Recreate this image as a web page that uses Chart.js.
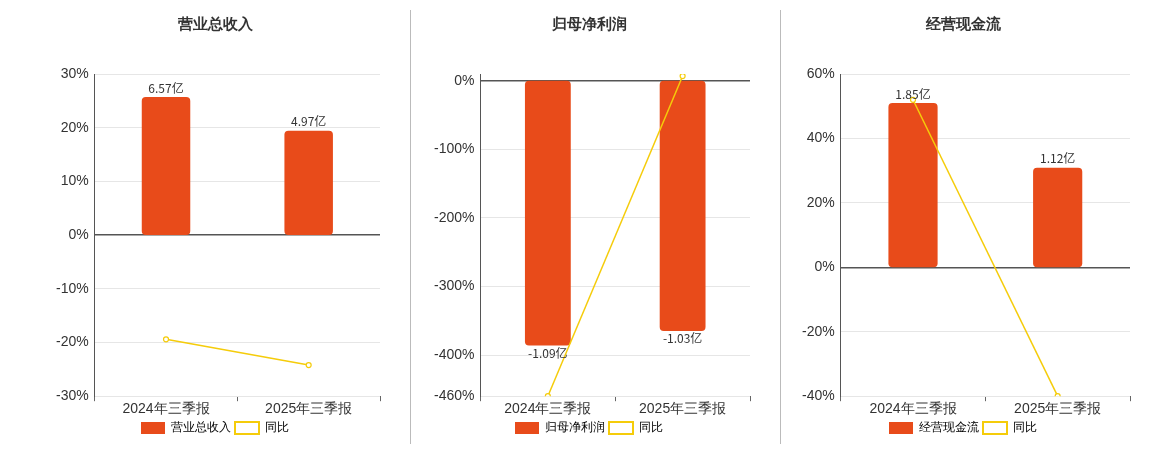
<!DOCTYPE html>
<html><head><meta charset="utf-8">
<script src="https://cdn.jsdelivr.net/npm/chart.js@4/dist/chart.umd.min.js"></script>
<style>
body{margin:0;background:#fff;font-family:"Noto Sans CJK SC","Noto Sans",sans-serif;}
.p{position:absolute;top:0;height:450px;}
.sep{position:absolute;top:10px;height:434px;width:1px;background:#bbb;}
</style></head><body>
<div class="p" style="left:0;width:400px"><canvas id="c1"></canvas></div>
<div class="sep" style="left:410px"></div>
<div class="p" style="left:400px;width:380px"><canvas id="c2"></canvas></div>
<div class="sep" style="left:780px"></div>
<div class="p" style="left:780px;width:380px"><canvas id="c3"></canvas></div>
<script>
var categories = ['2024年三季报', '2025年三季报'];

var revenue = [6.57, 4.97];
var revenueYoy = [-19.4, -24.2];
var profit = [-1.09, -1.03];
var profitYoy = [-460, 7];
var cash = [1.85, 1.12];
var cashYoy = [52, -40];

var barColor = '#E84B1A', lineColor = '#F5CC0A';

var barLabels = {
  id: 'barLabels',
  afterDatasetsDraw: function (chart) {
    var ctx = chart.ctx;
    var meta = chart.getDatasetMeta(0);
    ctx.save();
    ctx.font = '12px "Noto Sans CJK SC", sans-serif';
    ctx.fillStyle = '#333';
    ctx.textAlign = 'center';
    meta.data.forEach(function (bar, i) {
      var v = chart.data.datasets[0].data[i];
      if (v >= 0) { ctx.textBaseline = 'bottom'; ctx.fillText(v.toFixed(2) + '亿', bar.x, bar.y - 3); }
      else { ctx.textBaseline = 'top'; ctx.fillText(v.toFixed(2) + '亿', bar.x, bar.y + 2); }
    });
    ctx.restore();
  }
};

function makeChart(id, title, name, bars, yoy, yMin, yMax, ticks, k, pad) {
  new Chart(document.getElementById(id), {
    type: 'bar',
    data: {
      labels: categories,
      datasets: [{
        label: name, data: bars, yAxisID: 'y1', backgroundColor: barColor,
        borderRadius: 4, borderSkipped: false, barPercentage: 0.34, categoryPercentage: 1, order: 2
      }, {
        type: 'line', label: '同比', data: yoy, yAxisID: 'y', borderColor: lineColor,
        backgroundColor: '#fff', borderWidth: 1.5, pointRadius: 2.5, pointBorderWidth: 1.2, order: 1
      }]
    },
    options: {
      responsive: true, maintainAspectRatio: false, animation: false,
      layout: { padding: pad },
      plugins: {
        title: { display: true, text: title, color: '#333', font: { size: 15, weight: 'bold' }, padding: { top: 10, bottom: 40 } },
        legend: {
          position: 'bottom',
          labels: {
            color: '#333', font: { size: 12 }, boxWidth: 24, boxHeight: 12, padding: 4,
            generateLabels: function (chart) {
              return [
                { text: name, fillStyle: barColor, strokeStyle: barColor, lineWidth: 0, datasetIndex: 0 },
                { text: '同比', fillStyle: '#fff', strokeStyle: lineColor, lineWidth: 2, datasetIndex: 1 }
              ];
            }
          }
        },
        tooltip: { enabled: false }
      },
      scales: {
        x: {
          grid: { display: true, drawOnChartArea: false, offset: true, color: '#666', tickLength: 5 },
          border: { display: false },
          ticks: { color: '#333', font: { size: 14 }, padding: 0 }
        },
        y: {
          min: yMin, max: yMax,
          afterBuildTicks: function (ax) { ax.ticks = ticks.map(function (v) { return { value: v }; }); },
          ticks: { color: '#333', font: { size: 14 }, padding: 6, callback: function (v) { return v + '%'; } },
          grid: {
            color: function (c) { return c.tick && c.tick.value === 0 ? '#555' : '#e6e6e6'; },
            lineWidth: function (c) { return c.tick && c.tick.value === 0 ? 1.5 : 1; },
            drawTicks: false
          },
          border: { color: '#555' }
        },
        y1: { display: false, min: yMin * k, max: yMax * k }
      }
    },
    plugins: [barLabels]
  });
}

makeChart('c1', '营业总收入', '营业总收入', revenue, revenueYoy, -30, 30, [-30, -20, -10, 0, 10, 20, 30], 6.57 / 25.7, { left: 50, right: 20, top: 6, bottom: 6 });
makeChart('c2', '归母净利润', '归母净利润', profit, profitYoy, -460, 10, [-460, -400, -300, -200, -100, 0], 1.09 / 386, { left: 28, right: 30, top: 6, bottom: 6 });
makeChart('c3', '经营现金流', '经营现金流', cash, cashYoy, -40, 60, [-40, -20, 0, 20, 40, 60], 1.85 / 51, { left: 16, right: 30, top: 6, bottom: 6 });
</script>
</body></html>
